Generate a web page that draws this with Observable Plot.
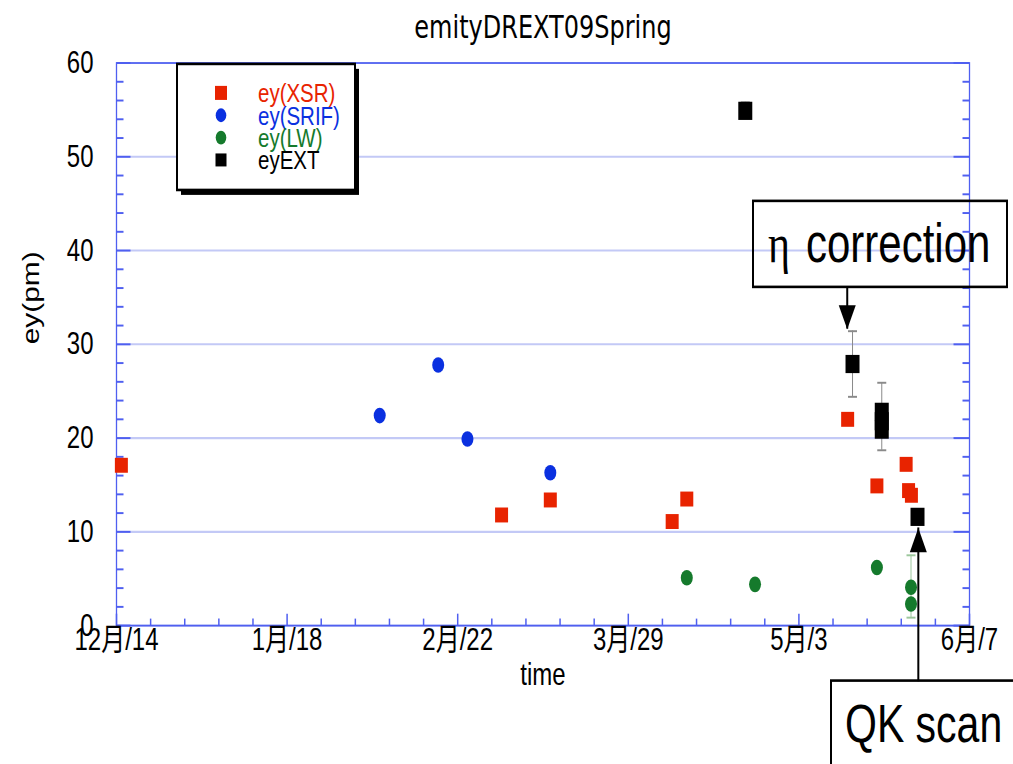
<!DOCTYPE html>
<html><head><meta charset="utf-8">
<script src="https://cdn.jsdelivr.net/npm/d3@7"></script>
<script src="https://cdn.jsdelivr.net/npm/@observablehq/plot@0.6"></script>
<style>body{margin:0;background:#fff;overflow:hidden}</style>
</head><body><div id="chart"></div>
<script>
// ---- texts ----
const title = "emityDREXT09Spring";
const yLabel = "ey(pm)";
const xLabel = "time";
const seriesNames = ["ey(XSR)", "ey(SRIF)", "ey(LW)", "eyEXT"];
const seriesColors = ["#e82300", "#0a30e0", "#157a2c", "#000000"];

// ---- data ----
const xsrDate = ["2008-12-15", "2009-03-03", "2009-03-13", "2009-04-07", "2009-04-10", "2009-05-13", "2009-05-19", "2009-05-25", "2009-05-25T12:00:00Z", "2009-05-26T02:00:00Z"];
const xsrVal  = [17.1, 11.8, 13.4, 11.1, 13.5, 22.0, 14.9, 17.2, 14.4, 13.9];

const srifDate = ["2009-02-06", "2009-02-18", "2009-02-24", "2009-03-13"];
const srifVal  = [22.4, 27.8, 19.9, 16.3];

const lwDate = ["2009-04-10", "2009-04-24", "2009-05-19", "2009-05-26", "2009-05-26"];
const lwVal  = [5.1, 4.4, 6.2, 4.1, 2.3];
const lwErrDate = ["2009-05-26"];
const lwErrLo = [0.85];
const lwErrHi = [7.5];

const extDate = ["2009-04-22", "2009-05-14", "2009-05-20", "2009-05-20", "2009-05-20", "2009-05-27T08:00:00Z"];
const extVal  = [54.9, 27.9, 22.8, 21.8, 20.9, 11.6];
const extErrDate = ["2009-04-22", "2009-05-14", "2009-05-20"];
const extErrLo = [54.2, 24.4, 18.7];
const extErrHi = [55.8, 31.4, 25.9];

// annotations (data coordinates)
const annText = ["correction", "QK scan"];
const arrowDate = ["2009-05-12T22:00:00Z", "2009-05-27T12:00:00Z"];
const arrowFrom = [36.0, -6.0];
const arrowTo = [31.6, 10.4];

// ---- ticks ----
const xDomain = ["2008-12-14", "2009-06-07"];
const xMajor = ["2008-12-14", "2009-01-18", "2009-02-22", "2009-03-29", "2009-05-03", "2009-06-07"];
const yMajor = [0, 10, 20, 30, 40, 50, 60];
const yMinor = [2, 4, 6, 8, 12, 14, 16, 18, 22, 24, 26, 28, 32, 34, 36, 38, 42, 44, 46, 48, 52, 54, 56, 58];

// ---- build tables ----
const D = s => new Date(s);
const pts = (ds, vs) => ds.map((d, i) => ({date: D(d), v: vs[i]}));
const xsr = pts(xsrDate, xsrVal);
const srif = pts(srifDate, srifVal);
const lw = pts(lwDate, lwVal);
const ext = pts(extDate, extVal);
const errs = (ds, lo, hi) => ds.map((d, i) => ({date: D(d), lo: lo[i], hi: hi[i]}));
const extErr = errs(extErrDate, extErrLo, extErrHi);
const lwErr = errs(lwErrDate, lwErrLo, lwErrHi);
const arrows = arrowDate.map((d, i) => ({date: D(d), from: arrowFrom[i], to: arrowTo[i]}));
const xMajorD = xMajor.map(D);
const start = D(xDomain[0]);
const xMinorD = d3.range(7, 175, 7).filter(d => d % 35 !== 0).map(d => d3.utcDay.offset(start, d));

// ---- symbols (unstretched px) ----
const sym = f => ({draw(c) { f(c); }});
const redSq = sym(c => c.rect(-6.5, -5.75, 13, 11.5));
const blkSq = sym(c => c.rect(-7, -7, 14, 14));
const tickH = l => sym(c => { c.moveTo(0, 0); c.lineTo(l, 0); });
const tickV = l => sym(c => { c.moveTo(0, 0); c.lineTo(0, l); });
const cap = sym(c => { c.moveTo(-4.5, 0); c.lineTo(4.5, 0); });
const headDown = sym(c => { c.moveTo(-8.5, -18.5); c.lineTo(8.5, -18.5); c.lineTo(0, 0); c.closePath(); });
const headUp = sym(c => { c.moveTo(-8.5, 18.5); c.lineTo(8.5, 18.5); c.lineTo(0, 0); c.closePath(); });

const axisBlue = "#4f5ff0";
const gridBlue = "#c3c9f6";
const font = "'Liberation Sans','Noto Sans CJK JP',sans-serif";
const fmt = d => `${d.getUTCMonth() + 1}月/${d.getUTCDate()}`;

const W = 1013, H = 764, K = 1.3, h = Math.round(H / K);

const chart = Plot.plot({
  width: W, height: h,
  marginLeft: 116, marginRight: 44, marginTop: 48, marginBottom: h - 481,
  style: {fontFamily: font, fontSize: "24px", background: "white", color: "black"},
  x: {type: "utc", domain: xDomain.map(D)},
  y: {domain: [0, 60]},
  marks: [
    Plot.ruleY(yMajor, {stroke: gridBlue, strokeWidth: 1.6}),
    Plot.frame({stroke: axisBlue, strokeWidth: 1.3}),
    // inward ticks
    Plot.dot(yMajor, {y: d => d, frameAnchor: "left", symbol: tickH(14), stroke: axisBlue, fill: "none"}),
    Plot.dot(yMinor, {y: d => d, frameAnchor: "left", symbol: tickH(7), stroke: axisBlue, fill: "none"}),
    Plot.dot(yMajor, {y: d => d, frameAnchor: "right", symbol: tickH(-16), stroke: axisBlue, fill: "none"}),
    Plot.dot(yMinor, {y: d => d, frameAnchor: "right", symbol: tickH(-7), stroke: axisBlue, fill: "none"}),
    Plot.dot(xMajorD, {x: d => d, frameAnchor: "bottom", symbol: tickV(-9.2), stroke: axisBlue, fill: "none"}),
    Plot.dot(xMinorD, {x: d => d, frameAnchor: "bottom", symbol: tickV(-5.4), stroke: axisBlue, fill: "none"}),
    // axes labels
    Plot.axisY({ticks: yMajor, tickSize: 0, tickPadding: 23, label: null, fontSize: 24}),
    Plot.axisX({ticks: xMajorD, tickFormat: fmt, tickSize: 0, tickPadding: 2, label: null, fontSize: 24}),
    Plot.text([title], {text: d => d, frameAnchor: "top", dy: -36, fontSize: 24, fontFamily: "DejaVu Sans"}),
    Plot.text([yLabel], {text: d => d, frameAnchor: "left", dx: -85, rotate: -90, fontSize: 23}),
    Plot.text([xLabel], {text: d => d, frameAnchor: "bottom", dy: 46, fontSize: 24}),
    // error bars
    Plot.ruleX(extErr, {x: "date", y1: "lo", y2: "hi", stroke: "#8a8a8a"}),
    Plot.dot(extErr, {x: "date", y: "lo", symbol: cap, stroke: "#8a8a8a", fill: "none"}),
    Plot.dot(extErr, {x: "date", y: "hi", symbol: cap, stroke: "#8a8a8a", fill: "none"}),
    Plot.ruleX(lwErr, {x: "date", y1: "lo", y2: "hi", stroke: "#9cc79c"}),
    Plot.dot(lwErr, {x: "date", y: "lo", symbol: cap, stroke: "#9cc79c", fill: "none"}),
    Plot.dot(lwErr, {x: "date", y: "hi", symbol: cap, stroke: "#9cc79c", fill: "none"}),
    // series
    Plot.dot(srif, {x: "date", y: "v", r: 6, fill: seriesColors[1]}),
    Plot.dot(lw, {x: "date", y: "v", r: 6, fill: seriesColors[2]}),
    Plot.dot(xsr, {x: "date", y: "v", symbol: redSq, fill: seriesColors[0]}),
    Plot.dot(ext, {x: "date", y: "v", symbol: blkSq, fill: seriesColors[3]}),
    // annotation arrows
    Plot.ruleX(arrows, {x: "date", y1: "from", y2: "to", stroke: "black", strokeWidth: 2}),
    Plot.dot([arrows[0]], {x: "date", y: "to", symbol: headDown, fill: "black"}),
    Plot.dot([arrows[1]], {x: "date", y: "to", symbol: headUp, fill: "black"})
  ]
});

// legend and callout boxes (layout, unstretched px)
const svg = d3.select(chart);
const lg = svg.append("g").attr("text-anchor", "start");
lg.append("rect").attr("x", 181).attr("y", 53).attr("width", 178).attr("height", 97).attr("fill", "#000");
lg.append("rect").attr("x", 177).attr("y", 49.2).attr("width", 178).attr("height", 97)
  .attr("fill", "#fff").attr("stroke", "#000").attr("stroke-width", 2);
const legendSym = [
  g => g.append("rect").attr("x", -6).attr("y", -5.4).attr("width", 12).attr("height", 10.8),
  g => g.append("circle").attr("r", 5.3),
  g => g.append("circle").attr("r", 5.3),
  g => g.append("rect").attr("x", -5.5).attr("y", -5).attr("width", 11).attr("height", 10)
];
seriesNames.forEach((name, i) => {
  const row = lg.append("g").attr("transform", `translate(221,${71.5 + 17.2 * i})`);
  legendSym[i](row).attr("fill", seriesColors[i]);
  row.append("text").attr("x", 37).attr("dy", "0.35em").attr("fill", seriesColors[i])
    .attr("font-size", 20.5).attr("font-family", font).text(name);
});

const ann = svg.append("g").attr("font-family", font).attr("text-anchor", "start");
ann.append("rect").attr("x", 753).attr("y", 154.6).attr("width", 254).attr("height", 66.2)
  .attr("fill", "none").attr("stroke", "#000").attr("stroke-width", 2);
const t1 = ann.append("text").attr("y", 201.6).attr("font-size", 42).attr("fill", "#000");
t1.append("tspan").attr("x", 768).attr("font-family", "'Liberation Serif',serif").text("η");
t1.append("tspan").attr("x", 806).text(annText[0]);
ann.append("rect").attr("x", 831).attr("y", 523.8).attr("width", 300).attr("height", 200)
  .attr("fill", "none").attr("stroke", "#000").attr("stroke-width", 2);
ann.append("text").attr("x", 845).attr("y", 570.8).attr("font-size", 41).attr("fill", "#000").text(annText[1]);

// the reference is stretched vertically; reproduce by stretching the SVG
chart.setAttribute("width", W);
chart.setAttribute("height", H);
chart.setAttribute("viewBox", `0 0 ${W} ${h}`);
chart.setAttribute("preserveAspectRatio", "none");
chart.style.width = W + "px";
chart.style.height = H + "px";
chart.style.maxWidth = "none";
document.getElementById("chart").appendChild(chart);
</script>
</body></html>
